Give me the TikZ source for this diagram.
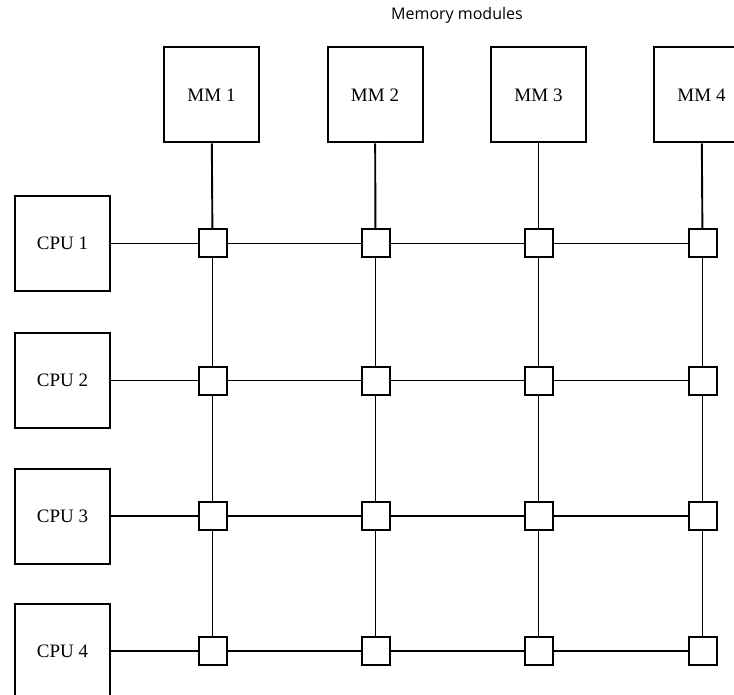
\documentclass[tikz,border=0pt]{standalone}
\usepackage{fontspec}
\setmainfont{Liberation Serif}
\newfontfamily\titlefont{Open Sans}
\begin{document}
\begin{tikzpicture}[x=1pt,y=-1pt,
  unit/.style={draw, line width=2pt, minimum width=95pt, minimum height=95pt,
    inner sep=0pt, font=\fontsize{19}{22}\selectfont},
  sw/.style={draw, line width=2pt, minimum width=28pt, minimum height=28pt,
    inner sep=0pt, fill=white},
  wire/.style={line width=1.9pt}]
\clip (0,0) rectangle (734,695);

% title
\node[font=\titlefont\fontsize{16}{19}\selectfont] (title) at (457,15) {Memory modules};

% memory modules
\node[unit] (m1) at (211.5,95) {MM 1};
\node[unit] (m2) at (375,95) {MM 2};
\node[unit] (m3) at (538.5,95) {MM 3};
\node[unit] (m4) at (701.5,95) {MM 4};

% processors
\node[unit] (c1) at (62.5,243.5) {CPU 1};
\node[unit] (c2) at (62.5,380.5) {CPU 2};
\node[unit] (c3) at (62.5,516) {CPU 3};
\node[unit] (c4) at (62.5,651) {CPU 4};

% crossbar switches
\foreach \r/\y in {1/243.5,2/380.5,3/516,4/651}{
  \foreach \c/\x in {1/212.5,2/375.5,3/538.5,4/702.5}{
    \node[sw] (s\r\c) at (\x,\y) {};
  }
}

% wiring
\foreach \c in {1,2,3,4}{
  \draw[wire] (m\c) -- (s1\c);
  \draw[wire] (s1\c) -- (s2\c);
  \draw[wire] (s2\c) -- (s3\c);
  \draw[wire] (s3\c) -- (s4\c);
}
\foreach \r in {1,2,3,4}{
  \draw[wire] (c\r) -- (s\r1);
  \draw[wire] (s\r1) -- (s\r2);
  \draw[wire] (s\r2) -- (s\r3);
  \draw[wire] (s\r3) -- (s\r4);
}
\end{tikzpicture}
\end{document}
